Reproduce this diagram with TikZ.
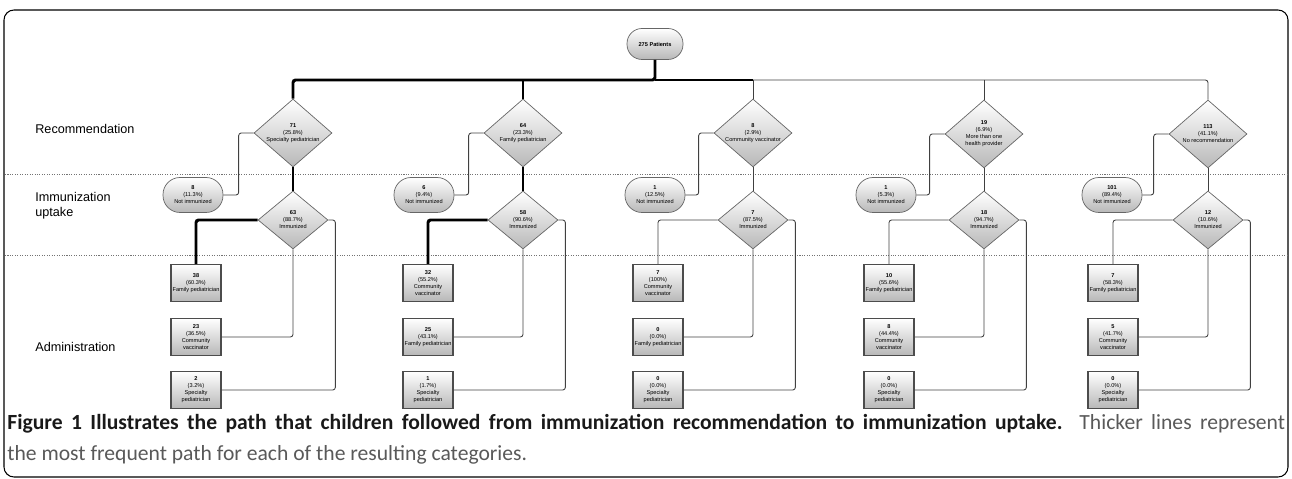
\documentclass[tikz,border=0pt]{standalone}
\usepackage{fontspec}
\setmainfont{Liberation Sans}
\newfontfamily\capfont{Carlito}
\usetikzlibrary{shapes.geometric}

\begin{document}
\begin{tikzpicture}[x=0.02cm, y=-0.02cm,
    every node/.style={inner sep=0pt},
    tiny/.style={font=\fontsize{3.2}{4}\selectfont, align=center},
    grad/.style={draw=black!60, line width=0.4pt, top color=white, bottom color=black!28},
    patbox/.style={grad, tiny, rounded corners=0.3cm, minimum width=1.12cm, minimum height=0.62cm},
    pill/.style={grad, tiny, rounded corners=0.34cm, minimum width=1.2cm, minimum height=0.7cm},
    adminbox/.style={grad, tiny, draw=black!70, line width=0.8pt, minimum width=1cm, minimum height=0.74cm},
    recdia/.style={grad, diamond, minimum width=1.56cm, minimum height=1.36cm, label={[tiny]center:#1}},
    immdia/.style={grad, diamond, minimum width=1.4cm, minimum height=1.16cm, label={[tiny]center:#1}},
    heavy/.style={line width=1.7pt, black, rounded corners=1.5pt},
    midline/.style={line width=1pt, black},
    light/.style={line width=0.5pt, black!75, rounded corners=1.5pt},
    level/.style={font=\fontsize{7.2}{8.6}\selectfont, align=left, anchor=west}]
    \useasboundingbox (0,0) rectangle (1292,479);

    % 外框与分隔线
    \draw[line width=0.6pt, rounded corners=0.2cm] (4,10) rectangle (1288,477);
    \draw[black!55, line width=0.4pt, dash pattern=on 0.6pt off 0.8pt] (5,174) -- (1287,174);
    \draw[black!55, line width=0.4pt, dash pattern=on 0.6pt off 0.8pt] (5,255) -- (1287,255);

    % 左侧层级标签
    \node[level] (lrec) at (35,129) {Recommendation};
    \node[level] (lupt) at (35,206) {Immunization\\uptake};
    \node[level] (ladm) at (35,347) {Administration};

    % 顶部节点
    \node[patbox] (pat) at (655,44) {\textbf{275 Patients}};
    \coordinate (bus) at (655,80);

    % 推荐层 (菱形)
    \node[recdia={\textbf{71}\\(25.8\%)\\Specialty pediatrician}] (r1) at (293,133) {};
    \node[recdia={\textbf{64}\\(23.3\%)\\Family pediatrician}] (r2) at (523,133) {};
    \node[recdia={\textbf{8}\\(2.9\%)\\Community vaccinator}] (r3) at (753,133) {};
    \node[recdia={\textbf{19}\\(6.9\%)\\More than one\\health provider}] (r4) at (984,134) {};
    \node[recdia={\textbf{113}\\(41.1\%)\\No recommendation}] (r5) at (1208,134) {};

    % 未接种
    \node[pill] (n1) at (193,195) {\textbf{8}\\(11.3\%)\\Not immunized};
    \node[pill] (n2) at (424,195) {\textbf{6}\\(9.4\%)\\Not immunized};
    \node[pill] (n3) at (655,195) {\textbf{1}\\(12.5\%)\\Not immunized};
    \node[pill] (n4) at (886,195) {\textbf{1}\\(5.3\%)\\Not immunized};
    \node[pill] (n5) at (1112,195) {\textbf{101}\\(89.4\%)\\Not immunized};

    % 已接种 (菱形)
    \node[immdia={\textbf{63}\\(88.7\%)\\Immunized}] (m1) at (293,220) {};
    \node[immdia={\textbf{58}\\(90.6\%)\\Immunized}] (m2) at (523,220) {};
    \node[immdia={\textbf{7}\\(87.5\%)\\Immunized}] (m3) at (753,220) {};
    \node[immdia={\textbf{18}\\(94.7\%)\\Immunized}] (m4) at (984,220) {};
    \node[immdia={\textbf{12}\\(10.6\%)\\Immunized}] (m5) at (1208,220) {};

    % 接种机构
    \node[adminbox] (a11) at (196,283) {\textbf{38}\\(60.3\%)\\Family pediatrician};
    \node[adminbox] (a12) at (196,337) {\textbf{23}\\(36.5\%)\\Community\\vaccinator};
    \node[adminbox] (a13) at (196,390) {\textbf{2}\\(3.2\%)\\Specialty\\pediatrician};
    \node[adminbox] (a21) at (428,283) {\textbf{32}\\(55.2\%)\\Community\\vaccinator};
    \node[adminbox] (a22) at (428,337) {\textbf{25}\\(43.1\%)\\Family pediatrician};
    \node[adminbox] (a23) at (428,390) {\textbf{1}\\(1.7\%)\\Specialty\\pediatrician};
    \node[adminbox] (a31) at (658,283) {\textbf{7}\\(100\%)\\Community\\vaccinator};
    \node[adminbox] (a32) at (658,337) {\textbf{0}\\(0.0\%)\\Family pediatrician};
    \node[adminbox] (a33) at (658,390) {\textbf{0}\\(0.0\%)\\Specialty\\pediatrician};
    \node[adminbox] (a41) at (889,283) {\textbf{10}\\(55.6\%)\\Family pediatrician};
    \node[adminbox] (a42) at (889,337) {\textbf{8}\\(44.4\%)\\Community\\vaccinator};
    \node[adminbox] (a43) at (889,390) {\textbf{0}\\(0.0\%)\\Specialty\\pediatrician};
    \node[adminbox] (a51) at (1113,283) {\textbf{7}\\(58.3\%)\\Family pediatrician};
    \node[adminbox] (a52) at (1113,337) {\textbf{5}\\(41.7\%)\\Community\\vaccinator};
    \node[adminbox] (a53) at (1113,390) {\textbf{0}\\(0.0\%)\\Specialty\\pediatrician};

    % 顶部分支
    \draw[heavy] (pat) -- (bus) -| (r1);
    \draw[heavy] (bus -| r2) -- (r2);
    \draw[midline] (bus) -- (bus -| r3);
    \draw[light] (bus -| r3) -- (r3);
    \draw[light] (bus -| r3) -| (r5);
    \draw[light] (bus -| r4) -- (r4);

    % 各列连线 (粗线 = 最常见路径)
    \draw[light] (r1.west) -- ++(-15,0) |- (n1);
    \draw[heavy] (r1) -- (m1);
    \draw[heavy] (m1.west) -| (a11);
    \draw[light] (m1.south) |- (a12);
    \draw[light] (m1.east) -- ++(7,0) |- (a13);

    \draw[light] (r2.west) -- ++(-15,0) |- (n2);
    \draw[heavy] (r2) -- (m2);
    \draw[heavy] (m2.west) -| (a21);
    \draw[light] (m2.south) |- (a22);
    \draw[light] (m2.east) -- ++(7,0) |- (a23);

    \draw[light] (r3.west) -- ++(-15,0) |- (n3);
    \draw[light] (r3) -- (m3);
    \draw[light] (m3.west) -| (a31);
    \draw[light] (m3.south) |- (a32);
    \draw[light] (m3.east) -- ++(7,0) |- (a33);

    \draw[light] (r4.west) -- ++(-15,0) |- (n4);
    \draw[light] (r4) -- (m4);
    \draw[light] (m4.west) -| (a41);
    \draw[light] (m4.south) |- (a42);
    \draw[light] (m4.east) -- ++(7,0) |- (a43);

    \draw[light] (r5.west) -- ++(-15,0) |- (n5);
    \draw[light] (r5) -- (m5);
    \draw[light] (m5.west) -| (a51);
    \draw[light] (m5.south) |- (a52);
    \draw[light] (m5.east) -- ++(7,0) |- (a53);

    % 图注
    \node[anchor=north west, text width=25.56cm, align=justify, text=black!65,
        font=\capfont\fontsize{12.3}{17.6}\selectfont] (cap) at (7,414)
        {\textcolor{black!90}{\textbf{Figure 1 Illustrates the path that children followed from immunization recommendation to immunization uptake.}} Thicker lines represent\linebreak the most frequent path for each of the resulting categories.};
\end{tikzpicture}
\end{document}
